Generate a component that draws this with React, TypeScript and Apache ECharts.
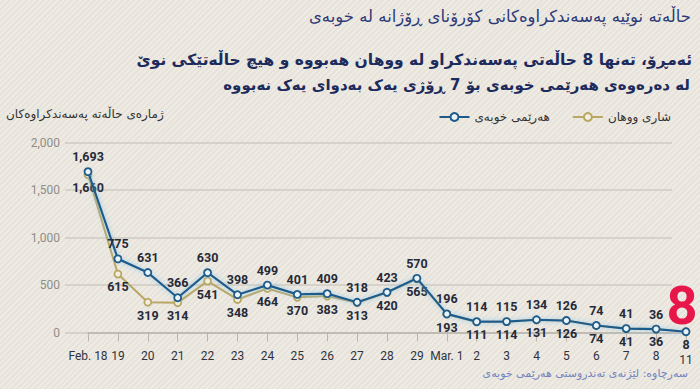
import React, { useEffect, useRef } from "react";
import * as echarts from "echarts";

const categories = ["Feb. 18", "19", "20", "21", "22", "23", "24", "25", "26", "27", "28", "29", "Mar. 1", "2", "3", "4", "5", "6", "7", "8", "11"];
const hubei = [1693, 775, 631, 366, 630, 398, 499, 401, 409, 318, 423, 570, 196, 114, 115, 134, 126, 74, 41, 36, 8];
const wuhan = [1660, 615, 319, 314, 541, 348, 464, 370, 383, 313, 420, 565, 193, 111, 114, 131, 126, 74, 41, 36, 8];
const yTicks = [0, 500, 1000, 1500, 2000];

const hubeiName = "هەرێمی خوبەی";
const wuhanName = "شاری ووهان";
const titleText = "حاڵەتە نوێیە پەسەندکراوەکانی کۆرۆنای ڕۆژانە لە خوبەی";
const subLine1 = "ئەمڕۆ، تەنها 8 حاڵەتی پەسەندکراو لە ووهان هەبووە و هیچ حاڵەتێکی نوێ";
const subLine2 = "لە دەرەوەی هەرێمی خوبەی بۆ 7 ڕۆژی یەک بەدوای یەک نەبووە";
const yName = "ژمارەی حاڵەتە پەسەندکراوەکان";
const sourceText = "سەرچاوە: لێژنەی تەندروستی هەرێمی خوبەی";

const KU = "'DejaVu Sans', 'Noto Sans', sans-serif";
const NUM = "'Roboto', 'DejaVu Sans', sans-serif";

export default function App() {
  const ref = useRef<HTMLDivElement>(null);
  useEffect(() => {
    document.body.style.margin = "0";
    const chart = echarts.init(ref.current!, undefined, { renderer: "svg" });
    const fmt = (p: any) => Number(p.value).toLocaleString("en-US");
    const labelBase = { show: true, fontFamily: NUM, fontWeight: "bold", fontSize: 12.5, color: "#262a38", formatter: fmt };
    const last = hubei.length - 1;
    const blueData = hubei.map((v, i) =>
      i === last
        ? { value: v, label: { show: true, position: "top", distance: 3, offset: [-4, 0], fontSize: 54, lineHeight: 38, fontWeight: "bold", color: "#e8174a", fontFamily: NUM } }
        : v
    );
    const option: any = {
      animation: false,
      backgroundColor: "transparent",
      grid: [
        { left: 88, right: 14, top: 142.5, bottom: 56.5 },
        { left: 65, right: 28, top: 142.5, bottom: 56.5 },
      ],
      xAxis: [
        {
          type: "category", gridIndex: 0, data: categories, boundaryGap: false,
          axisLine: { show: true, lineStyle: { color: "#b9b5ac", width: 1.5 } },
          axisTick: { show: true, length: 9, lineStyle: { color: "#b9b5ac" } },
          axisLabel: {
            color: "#2f3340", fontSize: 12, fontFamily: NUM, margin: 17, interval: 0,
            formatter: (v: string, i: number) => (i === categories.length - 1 ? `{low|${v}}` : v),
            rich: { low: { color: "#2f3340", fontSize: 12, fontFamily: NUM, padding: [4, 0, 0, 0] } },
          },
          splitLine: { show: false },
        },
        { type: "category", gridIndex: 1, data: categories, show: false },
      ],
      yAxis: [
        { type: "value", gridIndex: 0, min: 0, max: 2000, interval: 500, show: false, splitLine: { show: false } },
        {
          type: "value", gridIndex: 1, min: 0, max: 2000, interval: 500,
          axisLine: { show: false }, axisTick: { show: false },
          axisLabel: { color: "#8f8d88", fontSize: 12, fontFamily: NUM, margin: 5, formatter: (v: number) => (yTicks.includes(v) ? v.toLocaleString("en-US") : "") },
          splitLine: { show: true, lineStyle: { color: "#cfcbc2", width: 1.5 } },
        },
      ],
      legend: {
        data: [hubeiName, wuhanName], right: 24, top: 106, itemWidth: 30, itemHeight: 10, itemGap: 22,
        textStyle: { fontFamily: KU, fontSize: 12, color: "#333" },
      },
      graphic: [
        { type: "text", right: 9, top: 8, style: { text: titleText, font: `16.5px ${KU}`, fill: "#2e3a78" } },
        { type: "text", right: 8, top: 52, style: { text: subLine1, font: `bold 15.5px ${KU}`, fill: "#1c2a5c" } },
        { type: "text", right: 10, top: 77, style: { text: subLine2, font: `bold 15px ${KU}`, fill: "#1c2a5c" } },
        { type: "text", left: 6, top: 108, style: { text: yName, font: `12px ${KU}`, fill: "#333" } },
        { type: "text", right: 12, top: 368, style: { text: sourceText, font: `11px ${KU}`, fill: "#7183bd" } },
      ],
      series: [
        {
          name: wuhanName, type: "line", xAxisIndex: 0, yAxisIndex: 0, data: wuhan,
          symbol: "circle", symbolSize: 7, clip: false,
          lineStyle: { color: "#b9a764", width: 2 },
          itemStyle: { color: "#f3efe0", borderColor: "#b9a764", borderWidth: 1.8 },
          label: { ...labelBase, position: "bottom", distance: 2 },
          z: 2,
        },
        {
          name: hubeiName, type: "line", xAxisIndex: 0, yAxisIndex: 0, data: blueData,
          symbol: "circle", symbolSize: 7, clip: false,
          lineStyle: { color: "#1f5b8a", width: 2.2, shadowColor: "rgba(130,195,235,0.9)", shadowBlur: 5 },
          itemStyle: { color: "#e9f3f8", borderColor: "#1f5b8a", borderWidth: 1.8 },
          label: { ...labelBase, position: "top", distance: 4 },
          z: 3,
        },
      ],
    };
    chart.setOption(option);
    return () => chart.dispose();
  }, []);
  return (
    <div
      ref={ref}
      style={{
        position: "absolute", left: 0, top: 0, width: 700, height: 389,
        background: "repeating-linear-gradient(135deg, #eeebe4 0px, #eeebe4 2px, #e7e3db 2px, #e7e3db 4px)",
      }}
    />
  );
}
